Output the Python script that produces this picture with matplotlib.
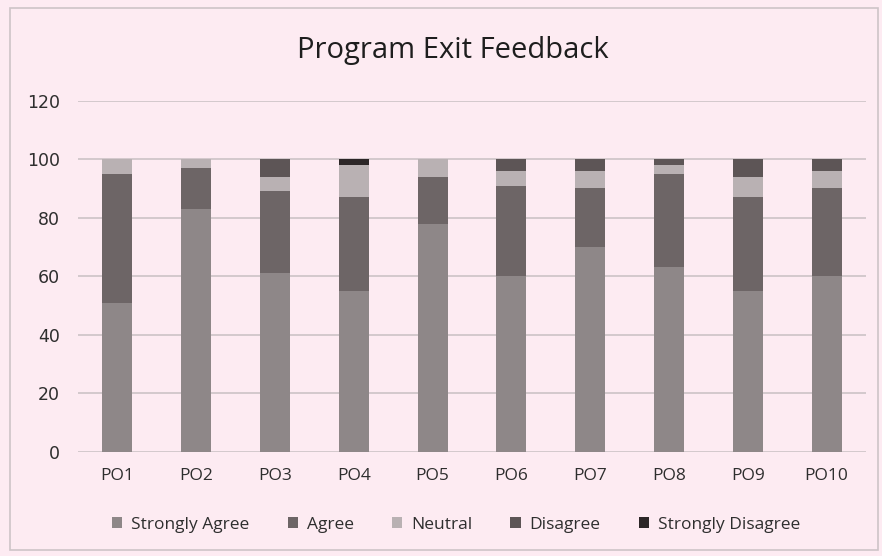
import matplotlib.pyplot as plt
from matplotlib.patches import Rectangle

# Program exit feedback, percentage of responses per outcome
outcomes = ['PO1', 'PO2', 'PO3', 'PO4', 'PO5', 'PO6', 'PO7', 'PO8', 'PO9', 'PO10']
strongly_agree = [51, 83, 61, 55, 78, 60, 70, 63, 55, 60]
agree = [44, 14, 28, 32, 16, 31, 20, 32, 32, 30]
neutral = [5, 3, 5, 11, 6, 5, 6, 3, 7, 6]
disagree = [0, 0, 6, 0, 0, 4, 4, 2, 6, 4]
strongly_disagree = [0, 0, 0, 2, 0, 0, 0, 0, 0, 0]

series = [
    ('Strongly Agree', strongly_agree, '#8e8788'),
    ('Agree', agree, '#6d6566'),
    ('Neutral', neutral, '#b9b1b3'),
    ('Disagree', disagree, '#5d5556'),
    ('Strongly Disagree', strongly_disagree, '#2c2627'),
]

bg = '#fdebf2'
txt = '#2e2e2e'
plt.rcParams['font.family'] = ['Open Sans', 'DejaVu Sans']

fig = plt.figure(figsize=(8.82, 5.56), dpi=100, facecolor=bg)
ax = fig.add_axes([0.0884, 0.1876, 0.8934, 0.6313], facecolor=bg)

x = list(range(len(outcomes)))
bottom = [0] * len(outcomes)
handles = []
for name, vals, col in series:
    bars = ax.bar(x, vals, width=0.38, bottom=bottom, color=col, label=name, zorder=3)
    handles.append(bars)
    bottom = [b + v for b, v in zip(bottom, vals)]

ax.set_xlim(-0.5, len(outcomes) - 0.5)
ax.set_ylim(0, 120)
ax.set_yticks(range(0, 121, 20))
ax.set_xticks(x)
ax.set_xticklabels(outcomes)
ax.yaxis.grid(True, color='#d3c9cc', linewidth=1.4, zorder=0)
ax.set_axisbelow(True)
for s in ax.spines.values():
    s.set_visible(False)
ax.tick_params(length=0)
ax.tick_params(axis='y', pad=13, labelsize=12.5, labelcolor=txt,
               labelfontfamily='DejaVu Sans')
ax.tick_params(axis='x', pad=12, labelsize=12.5, labelcolor=txt)

fig.text(0.513, 0.909, 'Program Exit Feedback', ha='center', va='center',
         fontsize=21, color='#1e1e1e')

fig.legend(handles=handles, loc='center', bbox_to_anchor=(0.517, 0.056), ncol=5,
           frameon=False, fontsize=12.5, handlelength=0.6, handleheight=0.6,
           handletextpad=0.5, columnspacing=2.2, labelcolor=txt)

# chart frame
fig.patches.append(Rectangle((0.011, 0.01), 0.985, 0.975, transform=fig.transFigure,
                             fill=False, edgecolor='#cdc4c7', linewidth=1.2))

fig.savefig('out.png', dpi=100, facecolor=bg)
